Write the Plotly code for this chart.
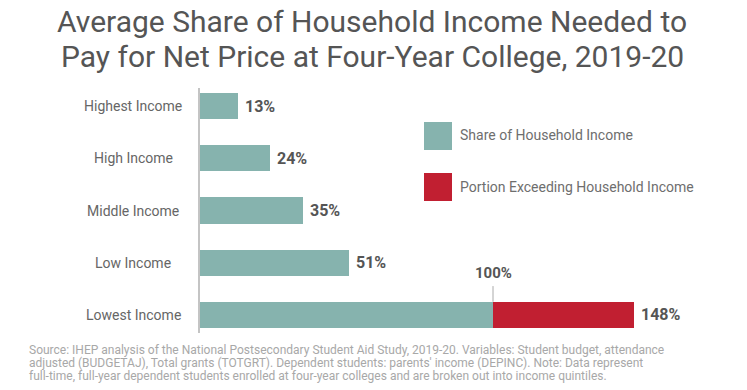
import plotly.graph_objects as go

categories = ["Lowest Income", "Low Income", "Middle Income", "High Income", "Highest Income"]
share_of_income = [100, 51, 35, 24, 13]
portion_exceeding = [48, 0, 0, 0, 0]
total_labels = [148, 51, 35, 24, 13]
threshold = 100

title_lines = ["Average Share of Household Income Needed to",
               "Pay for Net Price at Four-Year College, 2019-20"]
legend_names = ["Share of Household Income", "Portion Exceeding Household Income"]
source_lines = [
    "Source: IHEP analysis of the National Postsecondary Student Aid Study, 2019-20. Variables: Student budget, attendance",
    "adjusted (BUDGETAJ), Total grants (TOTGRT). Dependent students: parents' income (DEPINC). Note: Data represent",
    "full-time, full-year dependent students enrolled at four-year colleges and are broken out into income quintiles.",
]

TEAL = "#86b3ae"
RED = "#c11f31"
FONT = "Roboto"

W, H = 747, 390
L, R, T, B = 200, 20, 88, 57
PW, PH = W - L - R, H - T - B


def px(x):
    return (x - L) / PW


def py(y):
    return (H - B - y) / PH


fig = go.Figure()
fig.add_trace(go.Bar(y=categories, x=share_of_income, orientation="h", name=legend_names[0],
                     marker=dict(color=TEAL, line=dict(width=0)), width=0.5, showlegend=False,
                     hoverinfo="x+y"))
fig.add_trace(go.Bar(y=categories, x=portion_exceeding, orientation="h", name=legend_names[1],
                     marker=dict(color=RED, line=dict(width=0)), width=0.5, showlegend=False,
                     hoverinfo="x+y"))

ann = []
# title
for i, line in enumerate(title_lines):
    ann.append(dict(text=line, xref="paper", yref="paper", x=px(372), y=py(21.5 + 35 * i),
                    xanchor="center", yanchor="middle", showarrow=False,
                    font=dict(family=FONT, size=30, color="#555555")))
# category labels
for c in categories:
    ann.append(dict(text=c, xref="paper", yref="y", x=px(133), y=c, xanchor="center",
                    yanchor="middle", showarrow=False, font=dict(family=FONT, size=14, color="#666666")))
# value labels
for c, v in zip(categories, total_labels):
    ann.append(dict(text=f"<b>{v}%</b>", xref="x", yref="y", x=v, y=c, xanchor="left", xshift=5,
                    yanchor="middle", showarrow=False, font=dict(family=FONT, size=16, color="#555555")))
# threshold label
ann.append(dict(text=f"<b>{threshold}%</b>", xref="x", yref="y", x=threshold, y=categories[0],
                yshift=42, xanchor="center", yanchor="middle", showarrow=False,
                font=dict(family=FONT, size=15, color="#555555")))
# legend text
for i, name in enumerate(legend_names):
    ann.append(dict(text=name, xref="paper", yref="paper", x=px(458), y=py(135 + 52 * i),
                    xanchor="left", yanchor="middle", showarrow=False,
                    font=dict(family=FONT, size=14, color="#6e6e6e")))
# source
for i, line in enumerate(source_lines):
    ann.append(dict(text=line, xref="paper", yref="paper", x=px(27), y=py(350 + 13 * i),
                    xanchor="left", yanchor="middle", showarrow=False,
                    font=dict(family=FONT, size=12, color="#a8a8a8")))

shapes = [
    dict(type="line", xref="x", yref="y", x0=threshold, x1=threshold, y0=0.25, y1=0.55,
         line=dict(color="#aaaaaa", width=1)),
]
for i, col in enumerate([TEAL, RED]):
    top = 122 + 51 * i
    shapes.append(dict(type="rect", xref="paper", yref="paper", x0=px(424), x1=px(452),
                       y0=py(top + 28), y1=py(top), fillcolor=col, line=dict(width=0)))

fig.update_layout(
    width=W, height=H, margin=dict(l=L, r=R, t=T, b=B),
    paper_bgcolor="white", plot_bgcolor="white",
    barmode="stack", showlegend=False,
    annotations=ann, shapes=shapes,
    xaxis=dict(range=[0, PW / 2.93], visible=False, fixedrange=True),
    yaxis=dict(type="category", categoryorder="array", categoryarray=categories,
               range=[-0.35, 4.35], showticklabels=False, ticks="", showgrid=False,
               showline=True, linecolor="#c4c4c4", linewidth=1.5, zeroline=False, fixedrange=True),
)

fig.write_html("out.html", config={"displayModeBar": False},
               post_script="document.body.style.margin='0';document.body.style.overflow='hidden';")
